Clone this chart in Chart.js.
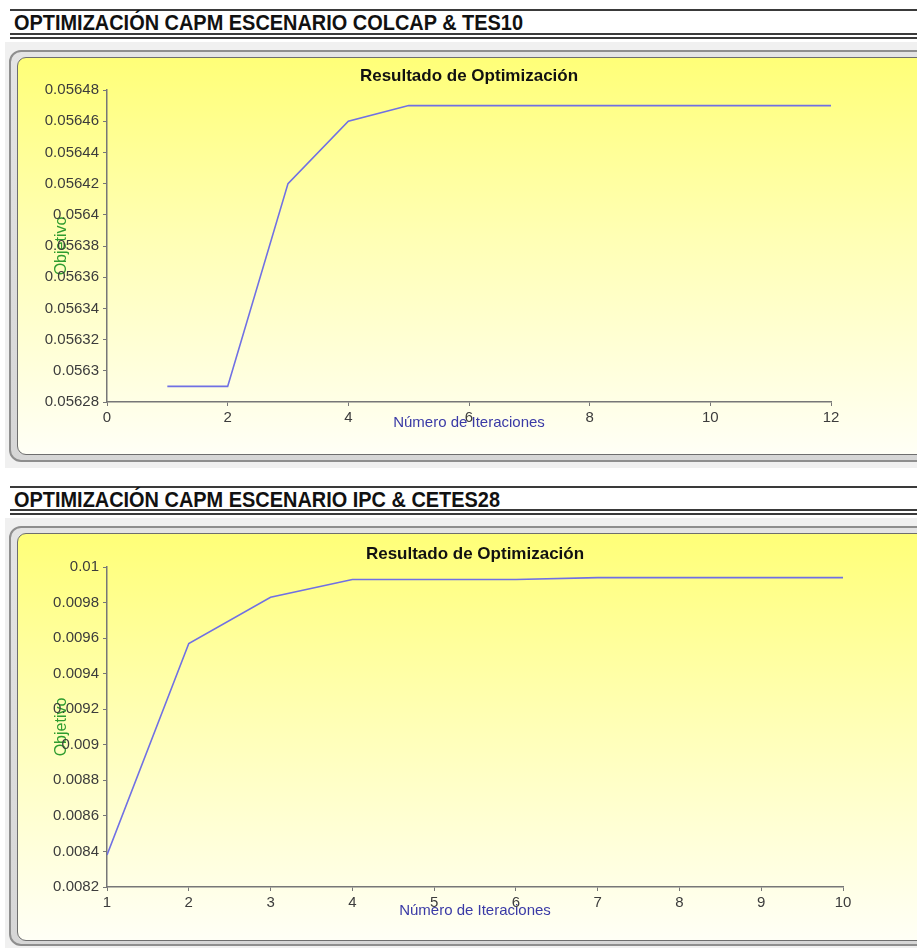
<!DOCTYPE html>
<html lang="es">
<head>
<meta charset="utf-8">
<script src="https://cdn.jsdelivr.net/npm/chart.js@4.4.1/dist/chart.umd.min.js"></script>
<style>
  html, body { margin: 0; padding: 0; background: #ffffff; width: 917px; height: 948px; overflow: hidden; }
  .rule { position: absolute; left: 10px; width: 907px; background: #3a3a3a; }
  .heading {
    position: absolute; left: 14px; margin: 0;
    font-family: "Liberation Sans", Arial, sans-serif;
    font-weight: bold; font-size: 22.5px; color: #111;
    white-space: nowrap; line-height: 24px;
    transform-origin: 0 50%;
  }
  .panel { position: absolute; left: 5px; width: 912px; background: #f0f0f0; }
  .frame {
    position: absolute; left: 9px; width: 920px; box-sizing: border-box;
    border: 2px solid #8e8e8e; border-radius: 12px;
    background: linear-gradient(to bottom, #e4e4e4, #d6d6d6);
  }
  .plotbox {
    position: absolute; left: 17px; width: 912px; box-sizing: border-box;
    border: 1px solid #6e6e6e; border-radius: 9px;
    background: linear-gradient(to bottom, #ffff78 0%, #ffffb4 45%, #fffff6 100%);
  }
  canvas { position: absolute; left: 18px; }
</style>
</head>
<body>

<!-- Escenario COLCAP & TES10 -->
<div class="rule" style="top:9px;height:1.5px;"></div>
<h2 class="heading" data-width="509" style="top:11px;">OPTIMIZACIÓN CAPM ESCENARIO COLCAP &amp; TES10</h2>
<div class="rule" style="top:33px;height:1.5px;"></div>
<div class="rule" style="top:37px;height:1.5px;"></div>
<div class="panel" style="top:42px;height:426px;"></div>
<div class="frame" style="top:50px;height:412px;"></div>
<div class="plotbox" style="top:57px;height:398px;"></div>
<canvas id="chartColcap" width="899" height="396" style="top:58px;"></canvas>

<!-- Escenario IPC & CETES28 -->
<div class="rule" style="top:486px;height:1.5px;"></div>
<h2 class="heading" data-width="486" style="top:488px;">OPTIMIZACIÓN CAPM ESCENARIO IPC &amp; CETES28</h2>
<div class="rule" style="top:509px;height:1.5px;"></div>
<div class="rule" style="top:513px;height:1.5px;"></div>
<div class="panel" style="top:518px;height:430px;"></div>
<div class="frame" style="top:526px;height:420px;"></div>
<div class="plotbox" style="top:533px;height:408px;"></div>
<canvas id="chartIpc" width="899" height="406" style="top:534px;"></canvas>

<script>
// Iteraciones y valor de la función objetivo, escenario COLCAP & TES10
const iterColcap = [1, 2, 3, 4, 5, 6, 7, 8, 9, 10, 11, 12];
const objColcap  = [0.05629, 0.05629, 0.05642, 0.05646, 0.05647, 0.05647,
                    0.05647, 0.05647, 0.05647, 0.05647, 0.05647, 0.05647];

// Iteraciones y valor de la función objetivo, escenario IPC & CETES28
const iterIpc = [1, 2, 3, 4, 5, 6, 7, 8, 9, 10];
const objIpc  = [0.00838, 0.00957, 0.00983, 0.00993, 0.00993, 0.00993,
                 0.00994, 0.00994, 0.00994, 0.00994];

// Rangos y pasos de los ejes
const xRangeColcap = [0, 12, 2];
const yRangeColcap = [0.05628, 0.05648, 0.00002];
const xRangeIpc = [1, 10, 1];
const yRangeIpc = [0.0082, 0.01, 0.0002];

const chartTitle = 'Resultado de Optimización';
const xTitle = 'Número de Iteraciones';
const yTitle = 'Objetivo';

// Encabezados en estilo condensado: se estrechan horizontalmente
document.querySelectorAll('.heading').forEach(h => {
  const target = Number(h.dataset.width);
  const w = h.getBoundingClientRect().width;
  if (w > 0) h.style.transform = 'scaleX(' + (target / w) + ')';
});

const baseFamily = '"Liberation Sans", Arial, sans-serif';
const tickFont = { family: baseFamily, size: 15 };
const tickColor = '#3c3c3c';

function trimNumber(v) {
  return String(Number(Number(v).toFixed(6)));
}

function buildChart(id, iters, values, xr, yr, geom) {
  const points = iters.map((it, i) => ({ x: it, y: values[i] }));
  return new Chart(document.getElementById(id), {
    type: 'line',
    data: {
      datasets: [{
        data: points,
        borderColor: '#7070e4',
        borderWidth: 1.6,
        pointRadius: 0,
        tension: 0,
        fill: false
      }]
    },
    options: {
      responsive: false,
      animation: false,
      layout: { padding: { left: 0, right: geom.right, top: 0, bottom: 0 } },
      plugins: {
        legend: { display: false },
        tooltip: { enabled: false },
        title: {
          display: true,
          text: chartTitle,
          fullSize: false,
          color: '#111',
          font: { family: baseFamily, size: 17, weight: 'bold', lineHeight: 1.2 },
          padding: { top: geom.titleTop, bottom: geom.titleBottom }
        }
      },
      scales: {
        x: {
          type: 'linear',
          min: xr[0], max: xr[1],
          afterFit: s => { s.height = geom.xHeight; },
          border: { display: true, color: '#777', width: 1.5 },
          grid: { display: true, drawOnChartArea: false, drawTicks: true, tickLength: 4, color: '#777' },
          ticks: { stepSize: xr[2], color: tickColor, font: tickFont, padding: 3, maxRotation: 0 },
          title: {
            display: true, text: xTitle, color: '#3a3aa6',
            font: { family: baseFamily, size: 15 },
            padding: { top: 0, bottom: geom.xTitleBottom }
          }
        },
        y: {
          type: 'linear',
          min: yr[0], max: yr[1],
          afterFit: s => { s.width = 89; },
          border: { display: true, color: '#777', width: 1.5 },
          grid: { display: true, drawOnChartArea: false, drawTicks: true, tickLength: 4, color: '#777' },
          ticks: { stepSize: yr[2], color: tickColor, font: tickFont, padding: 4, callback: v => trimNumber(v) },
          title: {
            display: true, text: yTitle, color: '#2f9c2f',
            font: { family: baseFamily, size: 16 },
            padding: { top: 34.4, bottom: 0 }
          }
        }
      }
    }
  });
}

buildChart('chartColcap', iterColcap, objColcap, xRangeColcap, yRangeColcap,
  { right: 86, titleTop: 8, titleBottom: 3.6, xHeight: 52, xTitleBottom: 22 });
buildChart('chartIpc', iterIpc, objIpc, xRangeIpc, yRangeIpc,
  { right: 74, titleTop: 10, titleBottom: 2.6, xHeight: 53, xTitleBottom: 20 });
</script>
</body>
</html>
